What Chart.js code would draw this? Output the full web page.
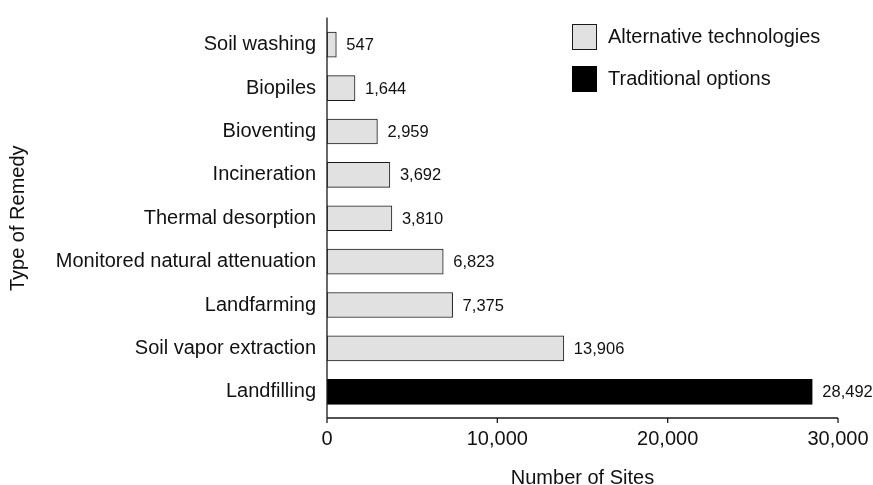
<!DOCTYPE html>
<html>
<head>
<meta charset="utf-8">
<script src="https://cdn.jsdelivr.net/npm/chart.js@4.4.1/dist/chart.umd.min.js"></script>
<style>
  body { margin: 0; background: #fff; }
  #wrap { width: 873px; height: 485px; }
</style>
</head>
<body>
<div id="wrap"><canvas id="chartRemedy" width="873" height="485"></canvas></div>
<script>
var remedies = ['Soil washing', 'Biopiles', 'Bioventing', 'Incineration', 'Thermal desorption',
  'Monitored natural attenuation', 'Landfarming', 'Soil vapor extraction', 'Landfilling'];
var sites = [547, 1644, 2959, 3692, 3810, 6823, 7375, 13906, 28492];
var kinds = ['alt', 'alt', 'alt', 'alt', 'alt', 'alt', 'alt', 'alt', 'trad'];
var xTicks = [0, 10000, 20000, 30000];
var legendItems = [
  { kind: 'alt', text: 'Alternative technologies' },
  { kind: 'trad', text: 'Traditional options' }
];

var FONT = '"Liberation Sans", Arial, Helvetica, sans-serif';
var fill = { alt: '#e1e1e1', trad: '#000000' };
var edge = { alt: '#1a1a1a', trad: '#000000' };

function fmt(v) { return v.toLocaleString('en-US'); }

// axis lines with small tick marks, value labels and the legend box
var decorations = {
  id: 'decorations',
  afterDatasetsDraw: function(chart) {
    var ctx = chart.ctx;
    var area = chart.chartArea;
    var xs = chart.scales.x;
    var axisY = area.bottom + 4.5;
    ctx.save();
    ctx.strokeStyle = '#1a1a1a';
    ctx.lineWidth = 1.3;
    ctx.beginPath();
    ctx.moveTo(area.left, area.top - 5.5);
    ctx.lineTo(area.left, axisY);
    ctx.lineTo(xs.getPixelForValue(xTicks[xTicks.length - 1]), axisY);
    xTicks.forEach(function(t) {
      var px = xs.getPixelForValue(t);
      ctx.moveTo(px, axisY);
      ctx.lineTo(px, axisY + 5);
    });
    ctx.stroke();

    ctx.fillStyle = '#111';
    ctx.font = '16.5px ' + FONT;
    ctx.textBaseline = 'middle';
    ctx.textAlign = 'left';
    chart.getDatasetMeta(0).data.forEach(function(bar, i) {
      ctx.fillText(fmt(sites[i]), bar.x + 10, bar.y + 1);
    });

    ctx.font = '20px ' + FONT;
    legendItems.forEach(function(item, i) {
      var bx = area.left + 245;
      var by = 24 + i * 42;
      ctx.fillStyle = fill[item.kind];
      ctx.fillRect(bx, by, 25, 26);
      ctx.strokeStyle = edge[item.kind];
      ctx.lineWidth = 1;
      ctx.strokeRect(bx + 0.5, by + 0.5, 24, 25);
      ctx.fillStyle = '#111';
      ctx.fillText(item.text, bx + 36, by + 13);
    });
    ctx.restore();
  }
};

var ctx = document.getElementById('chartRemedy').getContext('2d');
var chartRemedy = new Chart(ctx, {
  type: 'bar',
  data: {
    labels: remedies,
    datasets: [{
      label: 'Number of Sites',
      data: sites,
      backgroundColor: kinds.map(function(k) { return fill[k]; }),
      borderColor: kinds.map(function(k) { return edge[k]; }),
      borderWidth: 1,
      borderSkipped: false,
      barThickness: 25
    }]
  },
  options: {
    indexAxis: 'y',
    responsive: false,
    animation: false,
    layout: { padding: { top: 17.5, right: 35, left: 0, bottom: 0 } },
    plugins: {
      legend: { display: false },
      tooltip: { enabled: false }
    },
    scales: {
      x: {
        min: 0,
        max: 30000,
        afterBuildTicks: function(scale) {
          scale.ticks = xTicks.map(function(v) { return { value: v }; });
        },
        afterFit: function(scale) {
          scale.height = 71.5;
          scale.paddingLeft = 0;
          scale.paddingRight = 0;
        },
        grid: { display: false, drawTicks: false },
        border: { display: false },
        ticks: {
          padding: 14,
          color: '#111',
          font: { family: FONT, size: 20 },
          maxRotation: 0,
          callback: function(v) { return fmt(v); }
        },
        title: {
          display: true,
          text: 'Number of Sites',
          color: '#111',
          font: { family: FONT, size: 20, lineHeight: 1 },
          padding: { top: 0, bottom: -3 }
        }
      },
      y: {
        afterFit: function(scale) { scale.width = 327; },
        grid: { display: false, drawTicks: false },
        border: { display: false },
        ticks: {
          padding: 11,
          color: '#111',
          font: { family: FONT, size: 20 }
        },
        title: {
          display: true,
          text: 'Type of Remedy',
          color: '#111',
          font: { family: FONT, size: 20, lineHeight: 1 },
          padding: { top: 8, bottom: 0 }
        }
      }
    }
  },
  plugins: [decorations]
});
</script>
</body>
</html>
